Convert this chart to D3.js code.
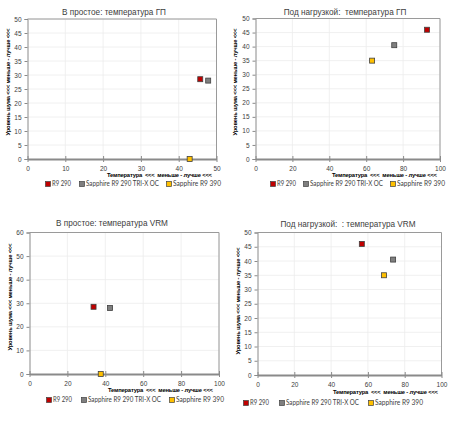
<!DOCTYPE html>
<html><head><meta charset="utf-8">
<script src="https://cdn.jsdelivr.net/npm/d3@7"></script>
<style>
html,body{margin:0;padding:0;background:#fff;}
svg{display:block;}
text{white-space:pre;}
</style>
</head><body>
<svg id="c" width="450" height="434"></svg>
<script>
// ---- data ----
const seriesNames = ["R9 290", "Sapphire R9 290 TRI-X OC", "Sapphire R9 390"];
const seriesColors = ["#c00000", "#7f7f7f", "#ffc000"];
const idleNoise = [28.5, 28, 0];
const loadNoise = [46, 40.5, 35];
const idleGpuTemp = [45.7, 47.8, 42.9];
const loadGpuTemp = [93, 75.2, 63.2];
const idleVrmTemp = [33.8, 42.5, 37.6];
const loadVrmTemp = [56.7, 73.7, 68.8];
const chartTitles = ["В простое: температура ГП", "Под нагрузкой:  температура ГП", "В простое: температура VRM", "Под нагрузкой:  : температура VRM"];
const xTitle = "Температура  <<<  меньше - лучше <<<";
const yTitle = "Уровень шума <<< меньше - лучше <<<";

// ---- layout / style ----
const svg = d3.select("#c");
const font = "'Liberation Sans', Arial, sans-serif";
const legendTextWidths = [19, 73, 48];

const panels = [
  {title: chartTitles[0], xs: idleGpuTemp, ys: idleNoise, xMax: 50, xStep: 10, yMax: 50, yStep: 5,
   l: 27.5, r: 216.5, t: 19, b: 159, titleX: 114, titleY: 15, yTitleX: 8, yTitleY: 82, xTitleX: 212, xTitleY: 177, legY: 184, legX: [48, 82, 169]},
  {title: chartTitles[1], xs: loadGpuTemp, ys: loadNoise, xMax: 100, xStep: 20, yMax: 50, yStep: 5,
   l: 255.5, r: 440, t: 18.5, b: 159, titleX: 345, titleY: 15, yTitleX: 235, yTitleY: 82, xTitleX: 437, xTitleY: 177, legY: 184, legX: [273, 306, 393]},
  {title: chartTitles[2], xs: idleVrmTemp, ys: idleNoise, xMax: 100, xStep: 20, yMax: 60, yStep: 10,
   l: 29.5, r: 219, t: 232.5, b: 374, titleX: 112, titleY: 226, yTitleX: 10, yTitleY: 297, xTitleX: 213, xTitleY: 392, legY: 400, legX: [49, 84, 172]},
  {title: chartTitles[3], xs: loadVrmTemp, ys: loadNoise, xMax: 100, xStep: 20, yMax: 50, yStep: 5,
   l: 257.5, r: 441.5, t: 232.5, b: 375, titleX: 348, titleY: 227, yTitleX: 238, yTitleY: 301, xTitleX: 438, xTitleY: 394, legY: 403, legX: [246, 282, 371]}
];

panels.forEach(p => {
  const g = svg.append("g");
  const x = d3.scaleLinear().domain([0, p.xMax]).range([p.l, p.r]);
  const y = d3.scaleLinear().domain([0, p.yMax]).range([p.b, p.t]);
  const xTicks = d3.range(0, p.xMax + 0.001, p.xStep);
  const yTicks = d3.range(0, p.yMax + 0.001, p.yStep);

  // gridlines
  g.append("g").selectAll("line.v").data(xTicks.slice(1)).join("line")
    .attr("x1", d => x(d)).attr("x2", d => x(d)).attr("y1", p.t).attr("y2", p.b)
    .attr("stroke", "#ececec").attr("stroke-width", 0.8);
  g.append("g").selectAll("line.h").data(yTicks.slice(1)).join("line")
    .attr("x1", p.l).attr("x2", p.r).attr("y1", d => y(d)).attr("y2", d => y(d))
    .attr("stroke", "#ececec").attr("stroke-width", 0.8);

  // plot border top/right
  g.append("path").attr("d", `M${p.l},${p.t}H${p.r}V${p.b}`)
    .attr("fill", "none").attr("stroke", "#9a9a9a").attr("stroke-width", 1);

  // y axis
  const ya = g.append("g").attr("transform", `translate(${p.l},0)`)
    .call(d3.axisLeft(y).tickValues(yTicks).tickSize(3).tickPadding(3));
  ya.select(".domain").attr("stroke", "#8a8a8a").attr("stroke-width", 1);
  ya.selectAll(".tick line").attr("stroke", "#8a8a8a");
  ya.selectAll("text").attr("font-family", font).attr("font-size", 6.5).attr("fill", "#404040");

  // x axis
  const xa = g.append("g").attr("transform", `translate(0,${p.b})`)
    .call(d3.axisBottom(x).tickValues(xTicks).tickSizeInner(3).tickSizeOuter(0).tickPadding(4));
  xa.select(".domain").attr("stroke", "#8a8a8a").attr("stroke-width", 2);
  xa.selectAll(".tick line").attr("stroke", "#8a8a8a").attr("y1", -3).attr("y2", 3);
  xa.selectAll("text").attr("font-family", font).attr("font-size", 6.5).attr("fill", "#404040");

  // titles
  g.append("text").attr("x", p.titleX).attr("y", p.titleY).attr("text-anchor", "middle")
    .attr("font-family", font).attr("font-size", 8.2).attr("fill", "#404040").text(p.title);
  g.append("text").attr("x", p.xTitleX).attr("y", p.xTitleY).attr("text-anchor", "end")
    .attr("textLength", 105).attr("lengthAdjust", "spacing")
    .attr("font-family", font).attr("font-size", 5.8).attr("font-weight", "bold").attr("fill", "#000").text(xTitle);
  g.append("text").attr("transform", `translate(${p.yTitleX},${p.yTitleY}) rotate(-90)`)
    .attr("text-anchor", "middle").attr("dy", "0.35em")
    .attr("textLength", 107).attr("lengthAdjust", "spacing")
    .attr("font-family", font).attr("font-size", 5.8).attr("font-weight", "bold").attr("fill", "#000").text(yTitle);

  // points
  const ms = 5;
  g.append("g").selectAll("rect").data(seriesNames.map((n, i) => i)).join("rect")
    .attr("x", i => x(p.xs[i]) - ms / 2).attr("y", i => y(p.ys[i]) - ms / 2)
    .attr("width", ms).attr("height", ms)
    .attr("fill", i => seriesColors[i]).attr("stroke", "#404040").attr("stroke-width", 0.8);

  // legend
  const lg = g.append("g");
  seriesNames.forEach((n, i) => {
    lg.append("rect").attr("x", p.legX[i] - 2.5).attr("y", p.legY - 2.5).attr("width", 5).attr("height", 5)
      .attr("fill", seriesColors[i]).attr("stroke", "#404040").attr("stroke-width", 0.7);
    lg.append("text").attr("x", p.legX[i] + 4).attr("y", p.legY).attr("dy", "0.35em")
      .attr("textLength", legendTextWidths[i]).attr("lengthAdjust", "spacingAndGlyphs")
      .attr("font-family", "Lato, 'Open Sans', sans-serif").attr("font-size", 6.8).attr("fill", "#404040").text(n);
  });
});
</script>
</body></html>
